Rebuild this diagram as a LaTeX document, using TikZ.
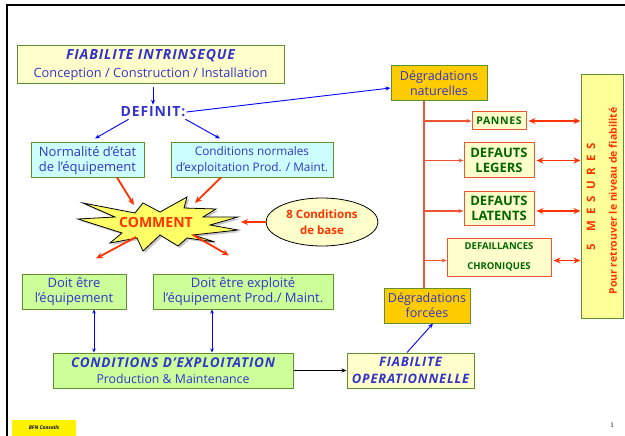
\documentclass[tikz,border=0pt]{standalone}
\usepackage{fontspec}
\setmainfont{Open Sans}
\newfontfamily\seriffont{Liberation Serif}
\newfontfamily\widefont[LetterSpace=6]{Open Sans}
\usetikzlibrary{arrows.meta,calc,shapes.geometric}
\definecolor{txtblue}{HTML}{3333CC}
\definecolor{boxgreen}{HTML}{5F8F2F}
\definecolor{lyellow}{HTML}{FFFFCC}
\definecolor{lcyan}{HTML}{CCFFFF}
\definecolor{lgreen}{HTML}{CCFF99}
\definecolor{dorange}{HTML}{FFCC00}
\definecolor{redo}{HTML}{FF3300}
\definecolor{dgreen}{HTML}{006600}
\definecolor{redborder}{HTML}{EE5533}
\definecolor{mesfill}{HTML}{FFFF99}
\definecolor{starfill}{HTML}{FFFF66}
\tikzset{
  box/.style={draw=boxgreen, line width=1pt, align=center, inner sep=0pt, text=txtblue,
    font=\fontsize{13}{15.5}\selectfont},
  defbox/.style={draw=redborder, line width=1pt, fill=lyellow, align=center, inner sep=0pt,
    text=dgreen, font=\fontsize{13}{15}\selectfont\bfseries},
  bluearrow/.style={draw=blue, line width=0.9pt, -{Stealth[length=5pt,width=4pt]}},
  bluedouble/.style={draw=blue, line width=0.9pt, {Stealth[length=4pt,width=3.5pt]}-{Stealth[length=4pt,width=3.5pt]}},
  redarrow/.style={draw=redo, line width=1.8pt, -{Stealth[length=7pt,width=6pt]}},
  reddouble/.style={draw=redo, line width=1.8pt, {Stealth[length=7pt,width=6pt]}-{Stealth[length=7pt,width=6pt]}},
  branch/.style={draw=redborder, line width=1.1pt, -{Stealth[length=5pt,width=4pt]}},
}
\begin{document}
\begin{tikzpicture}[x=1pt,y=-1pt]
\useasboundingbox (0,0) rectangle (625,436);
% frame
\draw[line width=2pt] (7,436) -- (7,5) -- (625,5);

% top-left
\node[box, fill=lyellow, minimum width=267, minimum height=38] (fiab) at (150.5,65)
  {{\widefont\fontsize{14}{15}\selectfont\bfseries\itshape FIABILITE INTRINSEQUE}\\[2pt]{\fontsize{12.8}{14}\selectfont Conception / Construction / Installation}};
\node[text=txtblue, font=\widefont\fontsize{14}{15}\selectfont\bfseries, inner sep=1pt] (definit) at (153,112) {DEFINIT:};
\node[box, fill=lcyan, minimum width=113, minimum height=35] (norm) at (87.5,160.5)
  {Normalité d’état\\de l’équipement};
\node[box, fill=lcyan, minimum width=162, minimum height=35, font=\fontsize{11.8}{15.5}\selectfont] (condn) at (252,160.5)
  {Conditions normales\\d’exploitation Prod. / Maint.};

% star
\fill[gray!45] (85,205) -- (137,215) -- (145,205) -- (162,214) -- (189,199) -- (186,210) -- (218,211) -- (205,219) -- (240,219) -- (212,227) -- (240,232) -- (195,237) -- (217,244) -- (189,240) -- (180,248) -- (162,237) -- (145,253) -- (139,240) -- (112,245) -- (124,235) -- (80,221) -- (117,219) -- cycle;
\draw[fill=starfill, line width=0.8pt] (83,203) -- (135,213) -- (143,203) -- (160,212) -- (187,197) -- (184,208) -- (216,209) -- (203,217) -- (238,217) -- (210,225) -- (238,230) -- (193,235) -- (215,242) -- (187,238) -- (178,246) -- (160,235) -- (143,251) -- (137,238) -- (110,243) -- (122,233) -- (78,219) -- (115,217) -- cycle;
\node[text=redo, font=\fontsize{14}{16}\selectfont\bfseries, inner sep=0pt] (comment) at (156,222) {COMMENT};
\coordinate (starTL) at (134,205);
\coordinate (starTR) at (195,203);
\coordinate (starR) at (241,222);
\coordinate (starBL) at (136,237);
\coordinate (starBR) at (193,235);

\node[draw=black, line width=0.8pt, fill=lyellow, ellipse, minimum width=112, minimum height=48, inner sep=0pt,
  align=center, text=redo, font=\fontsize{11.5}{16}\selectfont\bfseries] (cond8) at (322,222) {8 Conditions\\de base};

% lower left boxes
\node[box, fill=lgreen, minimum width=104, minimum height=35] (doit1) at (74,291.5)
  {Doit être\\l’équipement};
\node[box, fill=lgreen, minimum width=180, minimum height=35] (doit2) at (243,291.5)
  {Doit être exploité\\l’équipement Prod./ Maint.};
\node[box, fill=lgreen, minimum width=240, minimum height=35] (condexp) at (173,370.5)
  {{\widefont\fontsize{13.5}{14}\selectfont\bfseries\itshape CONDITIONS D’EXPLOITATION}\\{\fontsize{12.3}{14}\selectfont Production \& Maintenance}};
\node[box, fill=lyellow, minimum width=127, minimum height=35, font=\widefont\fontsize{13}{16.5}\selectfont\bfseries\itshape] (fiabop) at (410.5,370.5)
  {FIABILITE\\OPERATIONNELLE};

% right part
\node[box, fill=dorange, minimum width=96, minimum height=35, font=\fontsize{12.5}{15.5}\selectfont] (dnat) at (439,83.5)
  {Dégradations\\naturelles};
\node[box, fill=dorange, minimum width=86, minimum height=35, font=\fontsize{12.5}{15.5}\selectfont] (dforc) at (427,305.5)
  {Dégradations\\forcées};
\node[defbox, minimum width=54, minimum height=18, font=\widefont\fontsize{10.5}{11}\selectfont\bfseries] (pannes) at (499,121) {PANNES};
\node[defbox, minimum width=70, minimum height=35] (legers) at (499,160.5) {DEFAUTS\\LEGERS};
\node[defbox, minimum width=70, minimum height=34] (latents) at (499,208.5) {DEFAUTS\\LATENTS};
\node[defbox, minimum width=104, minimum height=38, font=\fontsize{9.5}{20}\selectfont\bfseries] (defail) at (499,257) {DEFAILLANCES\\CHRONIQUES};
\node[draw=boxgreen, line width=1pt, fill=mesfill, minimum width=42, minimum height=243, inner sep=0pt] (mes) at (602,196.5) {};
\node[rotate=90, text=redo, font=\fontsize{11.5}{13}\selectfont\bfseries, inner sep=0pt] (mes1) at (591,196.5)
  {5\hspace{12pt}M\hspace{6pt}E\hspace{6pt}S\hspace{6pt}U\hspace{6pt}R\hspace{6pt}E\hspace{6pt}S};
\node[rotate=90, text=redo, font=\fontsize{10.5}{12}\selectfont\bfseries, inner sep=0pt] (mes2) at (613,201)
  {Pour retrouver le niveau de fiabilité};

% footer
\node[fill=yellow, minimum width=64, minimum height=16, inner sep=0pt, font=\fontsize{5}{6}\selectfont\bfseries\itshape] (bfn) at (44,428) {BFN Conseils};
\node[font=\seriffont\fontsize{7}{8}\selectfont, inner sep=0pt] (pnum) at (612,425) {1};

% connectors
\draw[bluearrow] (fiab.south) ++(2.5,3) -- ($(definit.north)+(0,-1)$);
\draw[bluearrow] (definit.east) -- ($(dnat.west)+(0,4.5)$);
\draw[bluearrow] ($(definit.south west)+(9,1)$) -- ($(norm.north)+(7.5,-4)$);
\draw[bluearrow] ($(definit.south east)+(-1,1)$) -- ($(condn.north)+(-32,-4)$);
\draw[redarrow] ($(norm.south)+(29.5,-1)$) -- (starTL);
\draw[redarrow] ($(condn.south)+(-31,-1)$) -- (starTR);
\draw[redarrow] (cond8.west) -- (starR);
\draw[redarrow] (starBL) -- ($(doit1.north)+(22,-15)$);
\draw[redarrow] (starBR) -- ($(doit2.north)+(-14,-18)$);
\draw[bluedouble] (doit1.south -| 94,0) -- (condexp.north -| 94,0);
\draw[bluedouble] (doit2.south -| 212,0) -- (condexp.north -| 212,0);
\draw[draw=black, line width=0.9pt, -{Stealth[length=5pt,width=4pt]}] (condexp.east) -- (fiabop.west);
\draw[bluearrow] ($(fiabop.north)+(-3.5,0)$) -- ($(dforc.south)+(6,0)$);
\coordinate (trunk) at (424,0);
\draw[draw=redborder, line width=1.8pt] (dnat.south -| trunk) -- (dforc.north -| trunk);
\draw[branch] (pannes.west -| trunk) -- (pannes.west);
\draw[branch] (legers.west -| trunk) -- (legers.west);
\draw[branch] ($(latents.west -| trunk)+(0,2.5)$) -- ($(latents.west)+(0,2.5)$);
\draw[branch] ($(defail.west -| trunk)+(0,3.5)$) -- ($(defail.west)+(0,3.5)$);
\draw[reddouble] ($(pannes.east)+(2,0)$) -- (pannes.east -| mes.west);
\draw[reddouble] ($(legers.east)+(2,0)$) -- (legers.east -| mes.west);
\draw[reddouble] ($(latents.east)+(2,2.5)$) -- ($(latents.east -| mes.west)+(0,2.5)$);
\draw[reddouble] ($(defail.east)+(2,3.5)$) -- ($(defail.east -| mes.west)+(0,3.5)$);
\end{tikzpicture}
\end{document}
